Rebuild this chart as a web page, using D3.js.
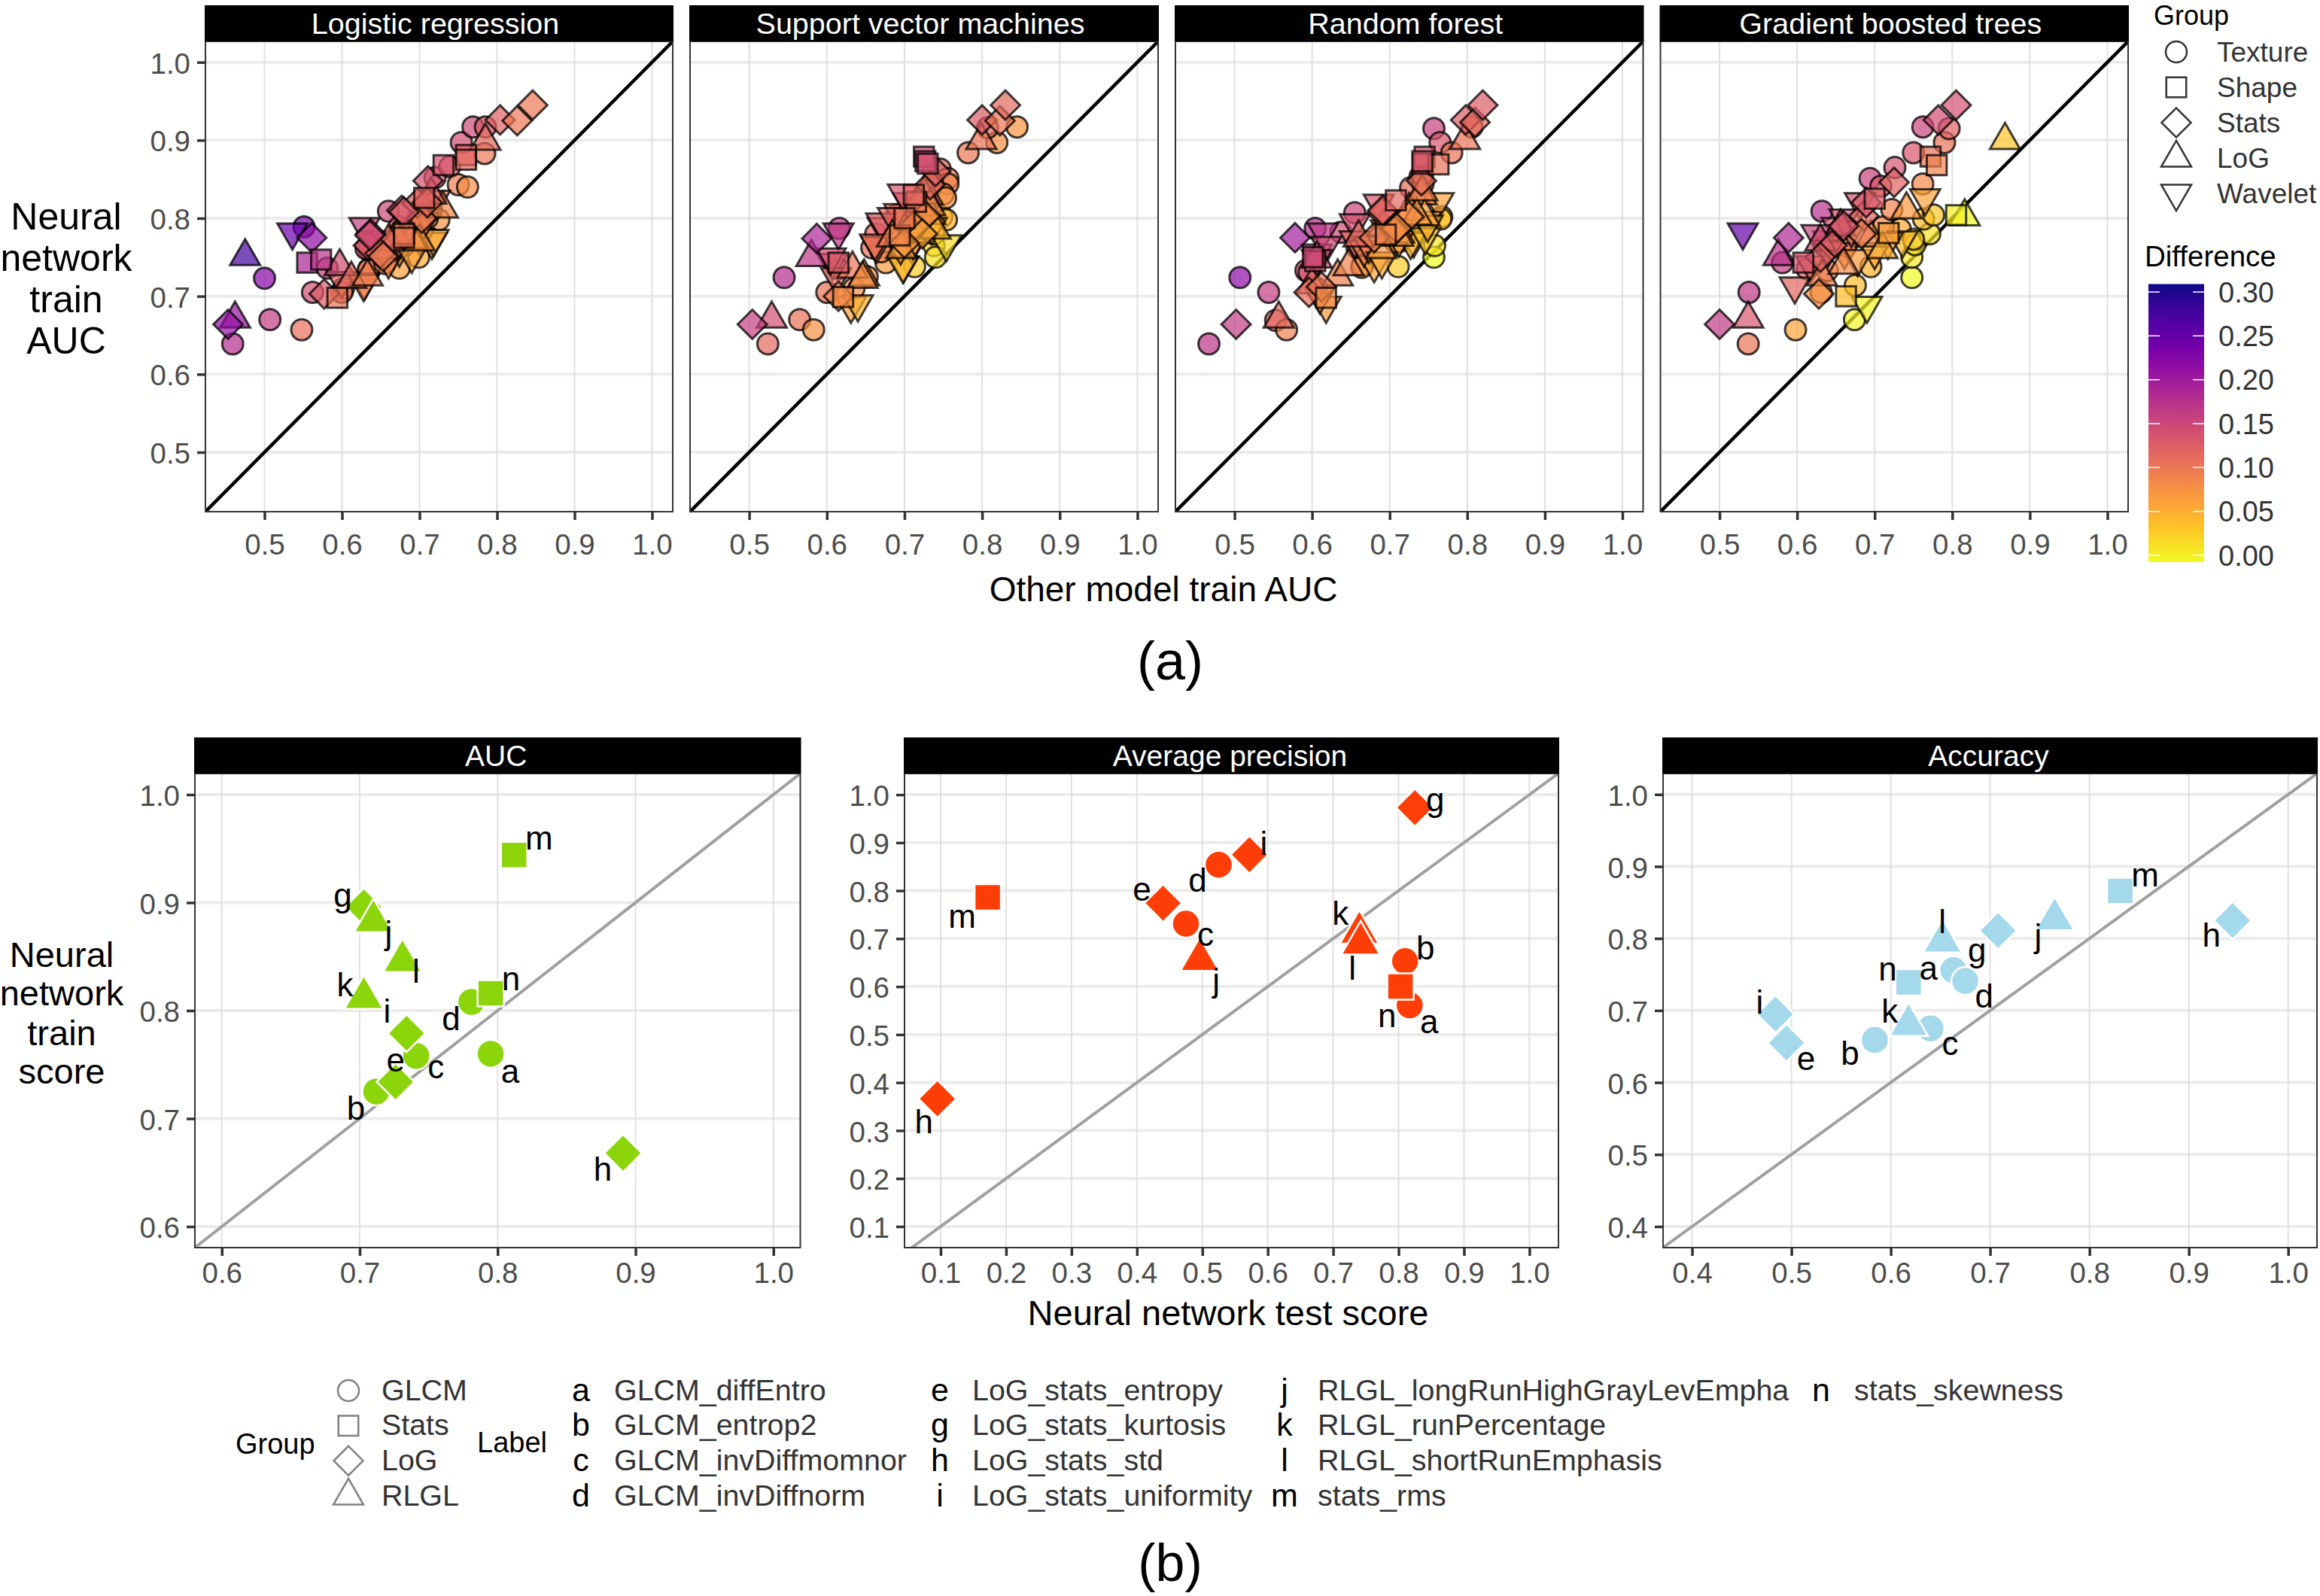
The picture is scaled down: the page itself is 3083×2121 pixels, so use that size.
<!DOCTYPE html>
<html lang="en">
<head>
<meta charset="UTF-8"/>
<title>Neural network vs other models</title>
<script src="https://d3js.org/d3.v7.min.js"></script>
<style>
    body { margin: 0; background: #fff; }
    text { font-family: "Liberation Sans", Arial, sans-serif; }
    .tick line { stroke: #333; stroke-width: 3.5px; }
    .tick text { fill: #4d4d4d; }
</style>
</head>
<body>
<div id="chart"></div>
<script>
// ---- part (a): [other model AUC, neural network AUC]
const lrTexture = [[.459,.639],[.507,.670],[.548,.657],[.5,.723],[.551,.789],[.562,.705],[.581,.736],[.602,.710],[.6,.705],[.635,.735],[.674,.736],[.699,.75],[.660,.809],[.64,.764],[.635,.76],[.674,.789],[.68,.765],[.725,.798],[.71,.80],[.72,.852],[.739,.866],[.75,.843],[.762,.84],[.754,.897],[.769,.917],[.785,.917],[.784,.883],[.675,.783],[.634,.734],[.631,.761],[.655,.742],[.69,.79],[.715,.81]];
const lrShape = [[.555,.743],[.573,.747],[.594,.698],[.68,.78],[.731,.868],[.76,.881],[.76,.875],[.706,.826],[.68,.775]];
const lrStats = [[.453,.664],[.561,.775],[.577,.703],[.677,.81],[.697,.819],[.703,.80],[.711,.848],[.804,.926],[.826,.925],[.846,.945],[.634,.765],[.637,.78],[.649,.755],[.653,.751],[.68,.808],[.636,.778],[.71,.82]];
const lrLog = [[.462,.671],[.475,.751],[.597,.738],[.612,.722],[.633,.725],[.785,.899],[.73,.812],[.655,.76],[.69,.772],[.70,.77],[.67,.775],[.715,.83],[.66,.77]];
const lrWavelet = [[.536,.782],[.629,.789],[.629,.718],[.716,.77],[.72,.824],[.674,.76],[.655,.768],[.7,.775],[.66,.745],[.6,.72],[.653,.761],[.671,.767],[.718,.774],[.628,.716],[.645,.772],[.69,.752],[.705,.795]];

const svmTexture = [[.524,.639],[.565,.67],[.583,.657],[.545,.724],[.616,.787],[.60,.705],[.663,.78],[.668,.762],[.676,.743],[.652,.725],[.635,.71],[.615,.735],[.69,.804],[.713,.738],[.738,.765],[.74,.75],[.748,.802],[.754,.798],[.746,.863],[.756,.851],[.756,.844],[.75,.831],[.733,.839],[.782,.884],[.819,.897],[.807,.916],[.845,.917],[.738,.78],[.658,.762],[.753,.826],[.736,.846],[.72,.79],[.67,.757]];
const svmShape = [[.725,.879],[.727,.873],[.694,.778],[.615,.743],[.621,.699],[.715,.821],[.70,.80],[.712,.83],[.73,.87]];
const svmStats = [[.504,.664],[.587,.774],[.725,.802],[.711,.787],[.80,.926],[.823,.925],[.83,.945],[.615,.70],[.733,.843],[.74,.86],[.727,.803],[.712,.79],[.723,.78],[.70,.768]];
const svmLog = [[.529,.671],[.58,.75],[.648,.725],[.633,.735],[.799,.90],[.73,.829],[.733,.804],[.709,.78],[.684,.775],[.646,.722],[.725,.83],[.733,.815],[.717,.787],[.74,.785],[.696,.76]];
const svmWavelet = [[.615,.782],[.607,.743],[.631,.688],[.699,.74],[.754,.767],[.693,.807],[.672,.789],[.664,.765],[.705,.821],[.735,.789],[.612,.725],[.709,.765],[.698,.832],[.67,.795],[.685,.802],[.662,.768],[.698,.739],[.695,.763],[.711,.77],[.64,.69],[.605,.75]];

const rfTexture = [[.467,.639],[.507,.724],[.544,.705],[.553,.669],[.567,.657],[.604,.787],[.637,.782],[.655,.807],[.592,.733],[.658,.762],[.665,.74],[.711,.738],[.757,.75],[.758,.765],[.767,.802],[.766,.799],[.727,.839],[.739,.853],[.743,.844],[.757,.915],[.765,.897],[.78,.884],[.806,.917],[.725,.784],[.712,.77],[.606,.71],[.72,.777],[.708,.769],[.596,.731],[.742,.855],[.664,.737]];
const rfShape = [[.745,.879],[.743,.87],[.763,.869],[.695,.779],[.618,.698],[.604,.745],[.708,.823],[.742,.873],[.601,.75]];
const rfStats = [[.502,.664],[.578,.775],[.596,.705],[.69,.807],[.725,.802],[.798,.926],[.81,.923],[.82,.945],[.706,.784],[.741,.848],[.691,.81],[.709,.787],[.612,.712],[.68,.775]];
const rfLog = [[.557,.671],[.606,.748],[.633,.725],[.647,.738],[.797,.90],[.741,.829],[.745,.802],[.712,.78],[.692,.789],[.6,.715],[.725,.81],[.735,.803],[.689,.76],[.711,.776],[.66,.775],[.742,.834]];
const rfWavelet = [[.614,.782],[.655,.794],[.606,.755],[.618,.765],[.618,.688],[.68,.74],[.731,.772],[.763,.821],[.686,.819],[.747,.797],[.655,.772],[.61,.7],[.727,.77],[.712,.773],[.746,.776],[.667,.76],[.673,.765],[.695,.786],[.749,.792],[.606,.748],[.69,.745]];

const gbtTexture = [[.537,.639],[.598,.657],[.538,.705],[.674,.67],[.748,.724],[.748,.75],[.675,.714],[.695,.738],[.752,.766],[.771,.78],[.763,.799],[.776,.804],[.733,.786],[.711,.789],[.662,.764],[.639,.733],[.632,.809],[.635,.765],[.613,.735],[.581,.743],[.631,.705],[.694,.851],[.726,.865],[.708,.841],[.762,.844],[.75,.884],[.79,.897],[.796,.915],[.762,.917],[.722,.811],[.75,.773]];
const gbtShape = [[.772,.879],[.78,.868],[.718,.781],[.608,.743],[.663,.70],[.70,.825],[.805,.804]];
const gbtStats = [[.5,.664],[.589,.775],[.628,.703],[.686,.803],[.689,.82],[.725,.846],[.782,.926],[.805,.945],[.645,.765],[.683,.78],[.66,.79],[.63,.75]];
const gbtLog = [[.537,.671],[.576,.751],[.632,.725],[.868,.90],[.816,.802],[.741,.811],[.656,.789],[.695,.775],[.63,.77],[.71,.76],[.66,.74]];
const gbtWavelet = [[.53,.782],[.597,.713],[.69,.688],[.765,.826],[.651,.789],[.681,.821],[.64,.772],[.661,.757],[.678,.748],[.736,.772],[.717,.77],[.70,.757],[.661,.80],[.625,.78],[.618,.74],[.67,.785],[.64,.76]];

const modelNames = ["Logistic regression", "Support vector machines", "Random forest", "Gradient boosted trees"];
const modelData = [
    [lrTexture, lrWavelet, lrLog, lrStats, lrShape],
    [svmTexture, svmWavelet, svmLog, svmStats, svmShape],
    [rfTexture, rfWavelet, rfLog, rfStats, rfShape],
    [gbtTexture, gbtWavelet, gbtLog, gbtStats, gbtShape]
];
const modelShapes = ["circle", "down", "up", "diamond", "square"];
const groupNamesA = ["Texture", "Shape", "Stats", "LoG", "Wavelet"];
const groupShapesA = ["circle", "square", "diamond", "up", "down"];
const diffTicks = [0, .05, .1, .15, .2, .25, .3];
const ticksA = [.5, .6, .7, .8, .9, 1.0];

// ---- part (b)
const labels = ["a","b","c","d","e","g","h","i","j","k","l","m","n"];
const labelShapes = ["circle","circle","circle","circle","diamond","diamond","diamond","diamond","up","up","up","square","square"];
const labelNames = ["GLCM_diffEntro","GLCM_entrop2","GLCM_invDiffmomnor","GLCM_invDiffnorm","LoG_stats_entropy","LoG_stats_kurtosis","LoG_stats_std","LoG_stats_uniformity","RLGL_longRunHighGrayLevEmpha","RLGL_runPercentage","RLGL_shortRunEmphasis","stats_rms","stats_skewness"];
const aucTest = [.795,.712,.741,.781,.726,.703,.891,.734,.710,.703,.731,.812,.795];
const aucTrain = [.760,.725,.758,.808,.734,.896,.668,.779,.883,.812,.846,.944,.816];
const apTest = [.817,.81,.475,.525,.44,.825,.095,.572,.496,.74,.742,.172,.803];
const apTrain = [.561,.653,.731,.854,.774,.973,.366,.875,.656,.713,.69,.786,.60];
const accTest = [.663,.584,.640,.675,.495,.708,.944,.484,.765,.618,.652,.831,.618];
const accTrain = [.756,.659,.675,.741,.655,.811,.825,.695,.827,.680,.796,.866,.739];
const groupNamesB = ["GLCM", "Stats", "LoG", "RLGL"];
const groupShapesB = ["circle", "square", "diamond", "up"];

// pixel offsets of the repelled point labels, in label order
const aucOffsets = [[26,25],[-27,24],[26,17],[-27,24],[0,-27],[-28,-13],[-27,23],[-26,-27],[20,18],[-25,-15],[18,16],[33,-21],[27,-17]];
const apOffsets = [[26,24],[27,-16],[26,16],[-28,23],[-28,-16],[27,-8],[-18,32],[19,-13],[22,29],[-25,-23],[-11,35],[-34,27],[-18,41]];
const accOffsets = [[-33,0],[-33,20],[26,22],[25,22],[26,23],[-28,28],[-28,22],[-21,-14],[-22,24],[-25,-16],[0,-24],[33,-19],[-28,-16]];

const svg = d3.select("#chart").append("svg").attr("width", 3083).attr("height", 2121);

const sizesA = {circle: 616, square: 700, diamond: 760, up: 693, down: 693};
const sizesB = {circle: 1075, square: 1225, diamond: 1250, up: 1150};

function marker(name, sizes) {
    const type = {circle: d3.symbolCircle, square: d3.symbolSquare, diamond: d3.symbolSquare, up: d3.symbolTriangle, down: d3.symbolTriangle}[name];
    return d3.symbol().type(type).size(sizes[name])();
}
function markerTransform(name, x, y) {
    const rot = name === "diamond" ? 45 : name === "down" ? 180 : 0;
    return "translate(" + x + "," + y + ") rotate(" + rot + ")";
}

// draws the frame of one facet and hands back its scales and a plot group
function facet(box, xDomain, yDomain, xTicks, yTicks, title, showY, tickLen, padX, diagColor, diagWidth) {
    const x = d3.scaleLinear().domain(xDomain).range([box.left, box.right]);
    const y = d3.scaleLinear().domain(yDomain).range([box.bottom, box.top]);
    const g = svg.append("g");

    g.selectAll(".gx").data(yTicks).enter().append("line")
        .attr("x1", box.left).attr("x2", box.right)
        .attr("y1", d => y(d)).attr("y2", d => y(d))
        .attr("stroke", "#ebebeb").attr("stroke-width", 4);
    g.selectAll(".gy").data(xTicks).enter().append("line")
        .attr("x1", d => x(d)).attr("x2", d => x(d))
        .attr("y1", box.top).attr("y2", box.bottom)
        .attr("stroke", "#e0e0e0").attr("stroke-width", 2);

    const clipId = "clip" + Math.round(box.left) + "_" + Math.round(box.top);
    svg.append("clipPath").attr("id", clipId).append("rect")
        .attr("x", box.left).attr("y", box.top)
        .attr("width", box.right - box.left).attr("height", box.bottom - box.top);

    g.append("line")
        .attr("clip-path", "url(#" + clipId + ")")
        .attr("x1", x(Math.min(xDomain[0], yDomain[0]))).attr("y1", y(Math.min(xDomain[0], yDomain[0])))
        .attr("x2", x(Math.max(xDomain[1], yDomain[1]))).attr("y2", y(Math.max(xDomain[1], yDomain[1])))
        .attr("stroke", diagColor).attr("stroke-width", diagWidth);

    const plot = g.append("g").attr("clip-path", "url(#" + clipId + ")");

    g.append("rect")
        .attr("x", box.left).attr("y", box.top)
        .attr("width", box.right - box.left).attr("height", box.bottom - box.top)
        .attr("fill", "none").attr("stroke", "#333").attr("stroke-width", 2);

    g.append("rect")
        .attr("x", box.left - 1).attr("y", box.stripTop)
        .attr("width", box.right - box.left + 2).attr("height", box.top - box.stripTop)
        .attr("fill", "#000");
    g.append("text")
        .attr("x", (box.left + box.right) / 2 + box.stripShift).attr("y", (box.stripTop + box.top) / 2)
        .attr("dy", ".36em").attr("text-anchor", "middle")
        .attr("fill", "#fff").style("font-size", box.stripFont + "px")
        .text(title);

    const xAxis = g.append("g").attr("transform", "translate(0," + box.bottom + ")")
        .call(d3.axisBottom(x).tickValues(xTicks).tickFormat(d3.format(".1f")).tickSize(tickLen).tickPadding(padX));
    xAxis.select(".domain").remove();
    xAxis.selectAll("text").style("font-size", "38.5px");

    if (showY) {
        const yAxis = g.append("g").attr("transform", "translate(" + box.left + ",0)")
            .call(d3.axisLeft(y).tickValues(yTicks).tickFormat(d3.format(".1f")).tickSize(tickLen).tickPadding(9));
        yAxis.select(".domain").remove();
        yAxis.selectAll("text").attr("dy", ".38em").style("font-size", "38.5px");
    }
    return {x, y, plot};
}

function multiline(lines, cx, ys, size) {
    lines.forEach((t, i) => {
        svg.append("text").attr("x", cx).attr("y", ys[i]).attr("dy", ".36em")
            .attr("text-anchor", "middle").style("font-size", size + "px").text(t);
    });
}

// ---- part (a)
const colorA = d3.scaleSequential(t => d3.interpolatePlasma(1 - t)).domain([-0.008, 0.309]);
const panelLefts = [273, 917, 1562, 2206.5];
const panelRights = [894, 1539, 2183.5, 2828];

modelNames.forEach((name, i) => {
    const box = {left: panelLefts[i], right: panelRights[i], top: 55, bottom: 680, stripTop: 7, stripFont: 39.5, stripShift: -5};
    const f = facet(box, [.4238, 1.0267], [.4238, 1.0267], ticksA, ticksA, name, i === 0, 11, 19, "#000", 4.5);
    modelData[i].forEach((points, j) => {
        const shapeName = modelShapes[j];
        f.plot.selectAll(null).data(points).enter().append("path")
            .attr("d", marker(shapeName, sizesA))
            .attr("transform", d => markerTransform(shapeName, f.x(d[0]), f.y(d[1])))
            .attr("fill", d => colorA(d[1] - d[0]))
            .attr("stroke", "#000")
            .attr("stroke-width", 3)
            .attr("fill-opacity", .7)
            .attr("stroke-opacity", .75);
    });
});

multiline(["Neural", "network", "train", "AUC"], 88, [287, 342, 397, 452], 50);
multiline(["Other model train AUC"], 1546, [782], 46);
multiline(["(a)"], 1555, [877], 72);

// group legend of (a)
svg.append("text").attr("x", 2862).attr("y", 33).style("font-size", "36px").text("Group");
const legendRowsA = d3.scalePoint().domain(groupNamesA).range([69, 257]);
groupNamesA.forEach((name, i) => {
    svg.append("path")
        .attr("d", marker(groupShapesA[i], sizesA))
        .attr("transform", markerTransform(groupShapesA[i], 2892, legendRowsA(name)))
        .attr("fill", "#fff").attr("stroke", "#333").attr("stroke-width", 2.5);
    svg.append("text").attr("x", 2946).attr("y", legendRowsA(name)).attr("dy", ".36em")
        .attr("fill", "#333").style("font-size", "37px").text(name);
});

// colour bar of (a)
svg.append("text").attr("x", 2850).attr("y", 340).attr("dy", ".36em").style("font-size", "38.5px").text("Difference");
const barY = d3.scaleLinear().domain([0, .3]).range([738, 388]);
const defs = svg.append("defs");
const grad = defs.append("linearGradient").attr("id", "plasma").attr("x1", 0).attr("x2", 0).attr("y1", 0).attr("y2", 1);
d3.range(0, 1.001, .05).forEach(t => {
    grad.append("stop").attr("offset", t).attr("stop-color", d3.interpolatePlasma(t));
});
svg.append("rect").attr("x", 2855).attr("y", 377.5).attr("width", 74).attr("height", 369.5).attr("fill", "url(#plasma)");
diffTicks.forEach(v => {
    svg.append("line").attr("x1", 2855).attr("x2", 2870).attr("y1", barY(v)).attr("y2", barY(v)).attr("stroke", "#fff").attr("stroke-width", 1.5);
    svg.append("line").attr("x1", 2914).attr("x2", 2929).attr("y1", barY(v)).attr("y2", barY(v)).attr("stroke", "#fff").attr("stroke-width", 1.5);
    svg.append("text").attr("x", 2948).attr("y", barY(v)).attr("dy", ".36em")
        .attr("fill", "#333").style("font-size", "38px").text(d3.format(".2f")(v));
});

// ---- part (b)
const metrics = [
    {title: "AUC", xs: aucTest, ys: aucTrain, offsets: aucOffsets, color: "#8cd50a", left: 259, right: 1063.5,
     xDomain: [.5805, 1.0195], yDomain: [.5805, 1.0195], xTicks: [.6,.7,.8,.9,1.0], yTicks: [.6,.7,.8,.9,1.0]},
    {title: "Average precision", xs: apTest, ys: apTrain, offsets: apOffsets, color: "#ff3d06", left: 1202, right: 2071,
     xDomain: [.0448, 1.0444], yDomain: [.056, 1.044], xTicks: d3.range(1, 11).map(d => d / 10), yTicks: d3.range(1, 11).map(d => d / 10)},
    {title: "Accuracy", xs: accTest, ys: accTrain, offsets: accOffsets, color: "#a4d8eb", left: 2210, right: 3079,
     xDomain: [.3708, 1.029], yDomain: [.3707, 1.029], xTicks: [.4,.5,.6,.7,.8,.9,1.0], yTicks: [.4,.5,.6,.7,.8,.9,1.0]}
];

metrics.forEach(m => {
    const box = {left: m.left, right: m.right, top: 1028, bottom: 1658, stripTop: 980, stripFont: 39, stripShift: -2};
    const f = facet(box, m.xDomain, m.yDomain, m.xTicks, m.yTicks, m.title, true, 11, 9, "#a0a0a0", 4);
    f.plot.selectAll(null).data(labels).enter().append("path")
        .attr("d", (d, i) => marker(labelShapes[i], sizesB))
        .attr("transform", (d, i) => markerTransform(labelShapes[i], f.x(m.xs[i]), f.y(m.ys[i])))
        .attr("fill", m.color).attr("stroke", "#fff").attr("stroke-width", 2.5);
    svg.selectAll(null).data(labels).enter().append("text")
        .attr("x", (d, i) => f.x(m.xs[i]) + m.offsets[i][0])
        .attr("y", (d, i) => f.y(m.ys[i]) + m.offsets[i][1])
        .attr("dy", ".3em").attr("text-anchor", "middle").style("font-size", "44px")
        .text(d => d);
});

multiline(["Neural", "network", "train", "score"], 82, [1268, 1319, 1372, 1423], 47);
multiline(["Neural network test score"], 1632, [1744], 47);
multiline(["(b)"], 1555, [2076], 70);

// legends of (b)
const legendRowsB = d3.scalePoint().domain(d3.range(4)).range([1848, 1988]);
svg.append("text").attr("x", 313).attr("y", 1918).attr("dy", ".36em").style("font-size", "38px").text("Group");
svg.append("text").attr("x", 634).attr("y", 1916).attr("dy", ".36em").style("font-size", "38px").text("Label");
groupNamesB.forEach((name, i) => {
    svg.append("path")
        .attr("d", marker(groupShapesB[i], sizesA))
        .attr("transform", markerTransform(groupShapesB[i], 463, legendRowsB(i)))
        .attr("fill", "#fff").attr("stroke", "#808080").attr("stroke-width", 2.5);
    svg.append("text").attr("x", 507).attr("y", legendRowsB(i)).attr("dy", ".32em")
        .attr("fill", "#333").style("font-size", "39.4px").text(name);
});
const columnLetterX = [772, 1249, 1707, 2420];
const columnTextX = [816, 1292, 1751, 2464];
labels.forEach((l, i) => {
    const col = Math.floor(i / 4);
    const row = i % 4;
    svg.append("text").attr("x", columnLetterX[col]).attr("y", legendRowsB(row)).attr("dy", ".32em")
        .attr("text-anchor", "middle").style("font-size", "43px").text(l);
    svg.append("text").attr("x", columnTextX[col]).attr("y", legendRowsB(row)).attr("dy", ".32em")
        .attr("fill", "#333").style("font-size", "39.4px").text(labelNames[i]);
});
</script>
</body>
</html>
